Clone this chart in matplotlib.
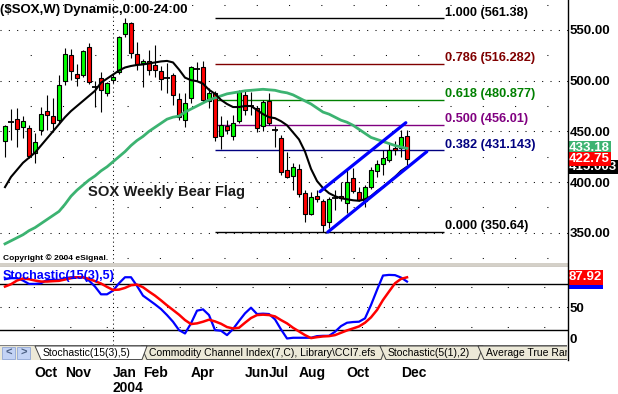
import matplotlib
matplotlib.use("Agg")
import matplotlib.pyplot as plt
import matplotlib.transforms as mtransforms
from matplotlib.patches import Polygon, Rectangle
import numpy as np

plt.rcParams['font.family'] = ['Liberation Sans', 'DejaVu Sans']

# weekly candles, $SOX Sep 2003 - Dec 2004
opens = [440, 459, 462, 454, 453, 429, 451, 470, 465, 461,
         500, 525, 507, 506, 533, 494, 503, 488, 501, 509,
         546, 557, 526, 517, 519, 515, 510, 503, 506, 482,
         461, 483, 512, 513, 480, 488, 445, 455, 445, 460,
         486, 475, 473, 455, 480, 451, 443, 412, 406, 413,
         389, 368, 386, 381, 361, 384, 386, 379, 404, 390,
         381, 395, 411, 418, 422, 434, 434, 445]
highs = [456, 472, 473, 465, 456, 448, 474, 486, 483, 506,
         532, 531, 516, 530, 537, 500, 509, 499, 506, 544,
         561.38, 558, 538, 521, 530, 535, 514, 517, 508, 488,
         488, 514, 518, 519, 493, 490, 465, 461, 466, 491,
         490, 489, 475, 481, 488, 455, 446, 430, 419, 418,
         392, 390, 392, 383, 385, 392, 400, 412, 414, 395,
         397, 415, 422, 432, 438, 440, 451, 451]
lows = [425, 441, 435, 443, 424, 419, 446, 451, 449, 457,
        496, 501, 495, 504, 497, 474, 469, 485, 498, 507,
        543, 522, 511, 494, 506, 504, 491, 488, 476, 461,
        454, 478, 500, 478, 473, 440, 433, 447, 441, 458,
        466, 466, 449, 450, 456, 435, 407, 404, 392, 385,
        361, 367, 380, 350.64, 355, 372, 381, 369, 389, 381,
        375, 393, 405, 407, 420, 427, 425, 417]
closes = [455, 459, 452, 460, 426, 439, 467, 466, 458, 496,
          526, 510, 503, 529, 499, 494, 491, 498, 504, 543,
          557, 527, 516, 519, 511, 511, 502, 503, 486, 464,
          478, 513, 512, 481, 488, 444, 456, 451, 458, 489,
          471, 475, 453, 479, 458, 451, 410, 405, 415, 388,
          368, 385, 383, 358, 383, 384, 384, 400, 391, 382,
          395, 412, 418, 424, 432, 432, 444, 422.75]

ma_short = [395, 405, 412, 419, 424, 429, 436, 443, 450, 457,
            464, 470, 475, 480, 485, 490, 498, 502, 506, 510,
            513, 514.5, 515.5, 516, 517, 518, 519, 519.5, 518, 511,
            503, 500.5, 499.5, 497, 491, 487, 481, 477, 474, 474,
            475, 475, 471, 467, 464, 463, 460, 456, 449, 442,
            430, 413, 401, 394, 389, 386, 384, 383, 382, 381.5,
            383, 386, 391, 395, 400, 405, 411, 415.003]
ma_long = [339, 342, 345, 348, 352, 355, 359, 363, 367, 371,
           378, 386, 392, 397, 402, 406, 411, 415, 420, 425,
           430, 436, 441, 445, 450, 454, 458, 462, 464, 465,
           469, 472, 475, 478, 481, 483, 485, 487, 488, 489,
           490, 490.5, 491, 491.5, 491, 490.5, 489, 488, 486, 483,
           480, 477, 473, 469, 467, 464, 461, 459, 456, 452,
           448, 444, 442, 440, 438, 436, 434.5, 433.18]

stoch_k = [85.5, 86.8, 86.8, 83.8, 79.5, 79.5, 80.3, 84.6, 84.6, 84.6,
           86.8, 88.0, 88.0, 88.0, 83.8, 76.1, 66.2, 66.2, 70.9, 80.3,
           88.0, 88.0, 76.9, 64.5, 59.0, 53.4, 47.4, 39.7, 31.2, 20.5,
           16.2, 29.1, 45.3, 47.0, 39.7, 20.5, 19.7, 14.1, 21.8, 32.1,
           41.9, 49.1, 41.0, 41.5, 41.0, 34.2, 21.4, 9.8, 10.7, 10.7,
           10.7, 10.7, 12.8, 13.2, 13.2, 18.4, 25.6, 29.9, 30.8, 31.2,
           35.5, 52.6, 71.8, 90.2, 91.0, 90.7, 87.6, 82.5]
stoch_d = [76.1, 79.1, 83.8, 86.4, 85.5, 83.8, 82.5, 82.5, 83.0, 83.4,
           85.1, 86.8, 88.0, 88.0, 85.9, 83.0, 80.0, 75.7, 71.8, 72.2,
           74.4, 77.8, 78.6, 75.2, 69.7, 64.5, 58.5, 52.1, 46.2, 40.2,
           33.3, 28.2, 29.1, 31.2, 33.8, 31.6, 28.6, 24.4, 22.6, 23.5,
           29.9, 35.9, 39.7, 40.2, 39.7, 38.0, 33.3, 29.1, 23.5, 18.8,
           14.1, 10.3, 11.5, 12.4, 12.8, 14.1, 17.1, 20.1, 22.6, 25.2,
           29.9, 36.8, 46.2, 59.0, 69.7, 80.3, 85.9, 87.92]

fib_ratios = ["1.000", "0.786", "0.618", "0.500", "0.382", "0.000"]
fib_prices = [561.38, 516.282, 480.877, 456.01, 431.143, 350.64]
fib_colors = ["black", "#800000", "#008000", "#800080", "#000080", "black"]
fib_start, fib_end = 35, 73.2

chan_upper_x = [52.5, 66.8]
chan_upper_y = [390.5, 458.5]
chan_lower_x = [53.8, 70.3]
chan_lower_y = [350.64, 430.0]

month_labels = ["Oct", "Nov", "Jan", "Feb", "Apr", "Jun", "Jul", "Aug", "Oct", "Dec"]
month_pos = [5, 10, 18, 23, 31, 40, 44, 49, 57, 66]
year_label, year_pos = "2004", 18

price_ticks = [350, 400, 450, 500, 550]

tab_names = ["Commodity Channel Index(7,C), Library\\CCI7.efs", "Stochastic(5(1),2)",
             "Average True Range(14)", "Stochastic(15(3),5)"]

W, H = 618, 394
RIGHT = 568
fig = plt.figure(figsize=(W / 100, H / 100), dpi=100)
fig.patch.set_facecolor("white")

ax = fig.add_axes([0, 1 - 263 / H, RIGHT / W, 263 / H])
st = fig.add_axes([0, 1 - 345 / H, RIGHT / W, (345 - 267) / H])
xlim = (-0.833, 93.83)

# ---- price panel
idx = np.arange(len(opens))
o, h, l, c = (np.array(v, dtype=float) for v in (opens, highs, lows, closes))
up, dn, dj = c > o, c < o, c == o

ax.vlines(idx, l, h, color="black", lw=0.8, zorder=3)
ax.bar(idx[up], (c - o)[up], bottom=o[up], width=0.62, color="#00FF00",
       edgecolor="black", lw=0.8, zorder=4)
ax.bar(idx[dn], (o - c)[dn], bottom=c[dn], width=0.62, color="#FF0000",
       edgecolor="black", lw=0.8, zorder=4)
ax.hlines(o[dj], idx[dj] - 0.5, idx[dj] + 0.5, color="black", lw=1.3, zorder=4)

ax.plot(idx, ma_long, color="#3CB371", lw=2.0, zorder=5)
ax.plot(idx, ma_short, color="black", lw=1.5, zorder=5)

ax.plot(chan_upper_x, chan_upper_y, color="#0000FF", lw=2.3, zorder=6, solid_capstyle="round")
ax.plot(chan_lower_x, chan_lower_y, color="#0000FF", lw=2.3, zorder=6, solid_capstyle="round")

for r, p, col in zip(fib_ratios, fib_prices, fib_colors):
    ax.hlines(p, fib_start, fib_end, color=col, lw=1.0, zorder=2)
    ax.annotate(f"{r} ({p:g})", (fib_end + 0.1, p), xytext=(0, 2), textcoords="offset points",
                va="baseline", ha="left", fontsize=9.2, fontweight="bold", color=col)

for v in range(350, 551, 50):
    ax.axhline(v, color="black", lw=0.75, ls=(0, (1, 7)), zorder=1)
for v in range(325, 576, 50):
    ax.axhline(v, color="black", lw=0.75, ls=(2, (1, 30)), zorder=1)
ax.axvline(year_pos + 0.08, color="black", lw=0.75, ls=(0, (1, 3)), zorder=1)

ax.text(13.8, 390.4, "SOX Weekly Bear Flag", fontsize=10.6, fontweight="bold",
        color="#1c1c1c", va="center", ha="left", zorder=7)
ax.text(0.0, 1 - 13 / 263, "($SOX,W) Dynamic,0:00-24:00", transform=ax.transAxes,
        fontsize=9.5, fontweight="bold", va="baseline", ha="left")
ax.text(0.005, 3 / 263, "Copyright \u00a9 2004 eSignal.", transform=ax.transAxes,
        fontsize=6, fontweight="bold", va="baseline", ha="left")

ax.set_xlim(*xlim)
ax.set_ylim(550 - 233 / 1.0135, 550 + 30 / 1.0135)
ax.set_xticks([])
ax.yaxis.tick_right()
ax.set_yticks(price_ticks)
ax.set_yticklabels([f"{v:.2f}" for v in price_ticks])
ax.tick_params(axis="y", length=0, pad=1, labelsize=9.5)
for t in ax.get_yticklabels():
    t.set_fontweight("bold")
for s in ax.spines.values():
    s.set_visible(False)

tr = mtransforms.blended_transform_factory(ax.transAxes, ax.transData)
box_labels = [(ma_short[-1], "415.003", "black"), (ma_long[-1], "433.18", "#3CB371"),
              (closes[-1], "422.75", "#FF0000")]
for val, txt, col in box_labels:
    ax.text(1.0015, val, txt, transform=tr, color="white", fontsize=9.5, fontweight="bold",
            va="center", ha="left", clip_on=False, zorder=8,
            bbox=dict(boxstyle="square,pad=0.1", fc=col, ec="none"))

# ---- stochastic panel
st.plot(idx, stoch_d, color="#FF0000", lw=1.8, zorder=4)
st.plot(idx, stoch_k, color="#0000FF", lw=1.6, zorder=3)
st.axhline(80, color="black", lw=1.0, zorder=2)
st.axhline(20, color="black", lw=1.0, zorder=2)
st.axhline(50, color="black", lw=0.75, ls=(0, (1, 7)), zorder=1)
for v in (25, 75):
    st.axhline(v, color="black", lw=0.75, ls=(3, (1, 34)), zorder=1)
st.axvline(year_pos + 0.08, color="black", lw=0.75, ls=(0, (1, 3)), zorder=1)
st.text(0.004, 1 - 9 / 78, "Stochastic(15(3),5)", transform=st.transAxes, color="#0000FF",
        fontsize=9, fontweight="bold", va="center", ha="left", zorder=5)
st.set_xlim(*xlim)
st.set_ylim(50 - 38 / 0.783, 50 + 40 / 0.783)
st.set_xticks([])
st.yaxis.tick_right()
st.set_yticks([50])
st.set_yticklabels(["50"])
st.tick_params(axis="y", length=0, pad=1, labelsize=9.5)
for t in st.get_yticklabels():
    t.set_fontweight("bold")
for s in st.spines.values():
    s.set_visible(False)
trs = mtransforms.blended_transform_factory(st.transAxes, st.transData)
st.text(1.002, 0, "0", transform=trs, fontsize=9.5, fontweight="bold", va="bottom",
        ha="left", clip_on=False)
st.text(1.0015, stoch_k[-1], f"{stoch_k[-1]:.2f}", transform=trs, color="white", fontsize=9.5,
        fontweight="bold", va="center", ha="left", clip_on=False, zorder=8,
        bbox=dict(boxstyle="square,pad=0.1", fc="#0000FF", ec="none"))
st.text(1.0015, stoch_d[-1], f"{stoch_d[-1]:.2f}", transform=trs, color="white", fontsize=9.5,
        fontweight="bold", va="center", ha="left", clip_on=False, zorder=9,
        bbox=dict(boxstyle="square,pad=0.1", fc="#FF0000", ec="none"))

# month labels under the tab strip
trx = mtransforms.blended_transform_factory(st.transData, fig.transFigure)
for lab, pos in zip(month_labels, month_pos):
    st.text(pos - 0.05, 1 - 377 / H, lab, transform=trx, fontsize=10, fontweight="bold",
            family=["Liberation Sans Narrow", "Liberation Sans"], ha="left", va="baseline",
            clip_on=False)
st.text(year_pos - 0.05, 1 - 392 / H, year_label, transform=trx, fontsize=10, fontweight="bold",
        family=["Liberation Sans Narrow", "Liberation Sans"], ha="left", va="baseline",
        clip_on=False)

# ---- window chrome (pixel coordinates)
ov = fig.add_axes([0, 0, 1, 1], zorder=-1)
ov.set_xlim(0, W)
ov.set_ylim(H, 0)
ov.axis("off")
ov.add_patch(Rectangle((0, 263), RIGHT, 4, fc="#D4D0C8", ec="none"))
ov.plot([0, RIGHT], [266.5, 266.5], color="#808080", lw=0.8)

top = fig.add_axes([0, 0, 1, 1], zorder=10)
top.set_xlim(0, W)
top.set_ylim(H, 0)
top.axis("off")
top.patch.set_alpha(0)
top.plot([RIGHT - 0.5, RIGHT - 0.5], [0, 360], color="black", lw=1.0)

# tab strip, clipped at the right axis line
tb = fig.add_axes([0, 1 - 360 / H, (RIGHT - 1) / W, 15 / H], zorder=11)
tb.set_xlim(0, RIGHT - 1)
tb.set_ylim(360, 345)
tb.axis("off")
tb.add_patch(Rectangle((0, 345), RIGHT, 15, fc="#ECE9D8", ec="none", zorder=0))
tb.plot([0, RIGHT], [345.4, 345.4], color="#808080", lw=0.8, zorder=0.5)

tab_x0 = [141, 380, 478, 35]
tab_x1 = [386, 483, 640, 147]
tab_fc = ["#ECE9D8", "#ECE9D8", "#ECE9D8", "white"]
for k, (name, x0, x1, fc) in enumerate(zip(tab_names, tab_x0, tab_x1, tab_fc)):
    z = 1 + 2 * k
    tb.add_patch(Polygon([(x0, 346), (x1, 346), (x1 - 5, 359.6), (x0 + 6, 359.6)], closed=True,
                         fc=fc, ec="#404040", lw=0.7, zorder=z))
    tb.text(x0 + 8, 353.3, name, fontsize=7.5, va="center", ha="left", zorder=z + 1,
            clip_on=True)

for bx, glyph in ((2, "<"), (17, ">")):
    tb.add_patch(Rectangle((bx, 347), 13, 12, fc="#C3D3F5", ec="#9AAED8", lw=0.7, zorder=20))
    tb.text(bx + 6.5, 353, glyph, fontsize=8, fontweight="bold", color="#4D6185",
            ha="center", va="center", zorder=21)

fig.savefig("out.png", dpi=100)
